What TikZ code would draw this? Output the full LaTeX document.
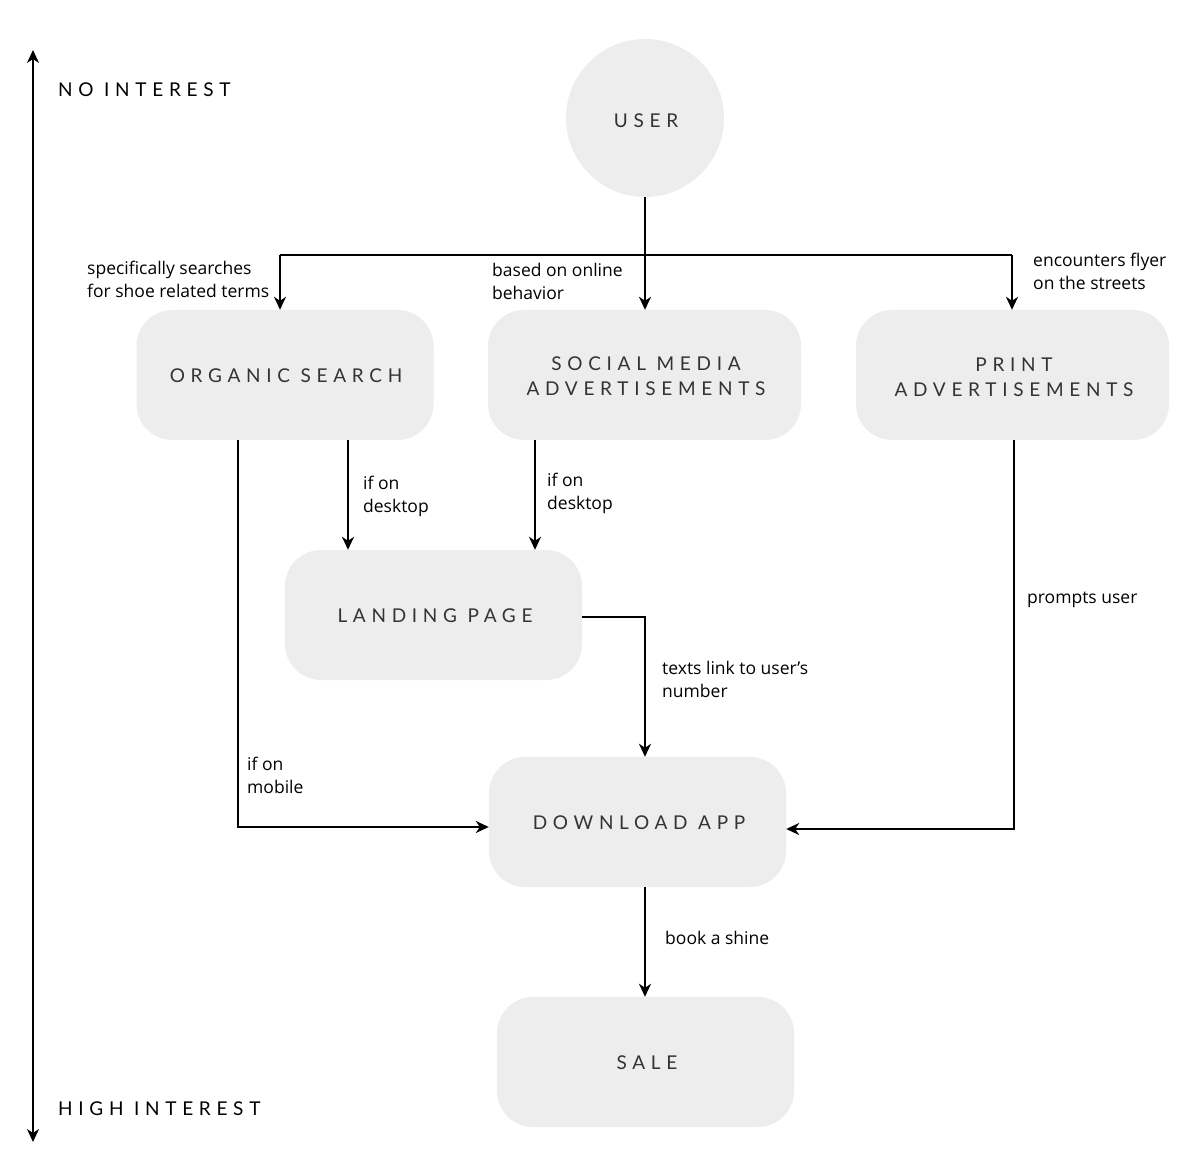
\documentclass[tikz,border=0pt]{standalone}
\usepackage{fontspec}
\setmainfont{Open Sans}
\newfontfamily\capsfont[LetterSpace=30]{Lato}
\usetikzlibrary{arrows.meta}
\definecolor{boxfill}{HTML}{EDEDED}
\definecolor{txt}{HTML}{333333}
\tikzset{
  box/.style={fill=boxfill, rounded corners=36pt, minimum width=297pt, minimum height=130pt,
    inner sep=0pt, align=center, text=txt, font=\capsfont\fontsize{19}{25}\selectfont},
  boxtext/.style={text=txt, font=\capsfont\fontsize{19}{25}\selectfont, inner sep=0pt, align=center},
  conn/.style={line width=1.8pt, -{Stealth[length=13pt,width=12pt,inset=4pt]}},
  lbl/.style={align=left, anchor=base west, inner sep=0pt, font=\fontsize{17.5}{23}\selectfont, text=black},
  axislbl/.style={anchor=west, inner sep=0pt, font=\capsfont\fontsize{19}{25}\selectfont, text=black}
}
\begin{document}
\begin{tikzpicture}[x=1pt,y=-1pt]
\useasboundingbox (0,0) rectangle (1187,1174);
% axis
\coordinate (axtop) at (33,50);
\coordinate (axbot) at (33,1142);
\draw[line width=1.8pt, {Stealth[length=13pt,width=12pt,inset=4pt]}-{Stealth[length=13pt,width=12pt,inset=4pt]}] (axtop) -- (axbot);
\node[axislbl] (noint) at (58,90) {NO INTEREST};
\node[axislbl] (highint) at (58,1109) {HIGH INTEREST};
% nodes
\node[circle, fill=boxfill, minimum size=158pt, inner sep=0pt] (user) at (645,118) {};
\node[boxtext] (usertext) at (646,121) {USER};
\node[box] (organic) at (285,375) {};
\node[boxtext] (organictext) at (286,376) {ORGANIC SEARCH};
\node[box, minimum width=313pt] (social) at (644.5,375) {};
\node[boxtext] (socialtext) at (646,376) {SOCIAL MEDIA\\ADVERTISEMENTS};
\node[box, minimum width=313pt] (print) at (1012.5,375) {};
\node[boxtext] (printtext) at (1014,377) {PRINT\\ADVERTISEMENTS};
\node[box] (landing) at (433.5,615) {};
\node[boxtext] (landingtext) at (435,616) {LANDING PAGE};
\node[box] (download) at (637.5,822) {};
\node[boxtext] (downloadtext) at (639,823) {DOWNLOAD APP};
\node[box] (sale) at (645.5,1062) {};
\node[boxtext] (saletext) at (647,1063) {SALE};
% connectors from user
\coordinate (splitL) at (280,255);
\coordinate (splitR) at (1012,255);
\draw[conn] (user.south) -- (social.north -| user.south);
\draw[line width=1.8pt] (splitL) -- (splitR);
\draw[conn] (splitL) -- (organic.north -| splitL);
\draw[conn] (splitR) -- (print.north -| splitR);
% organic
\coordinate (orgA) at (238,827);
\draw[conn] (organic.south -| orgA) -- (orgA) -- (download.west |- orgA);
\coordinate (orgB) at (348,440);
\draw[conn] (organic.south -| orgB) -- (landing.north -| orgB);
% social
\coordinate (socA) at (535,440);
\draw[conn] (social.south -| socA) -- (landing.north -| socA);
% landing -> download
\coordinate (landC) at (645,617);
\draw[conn] (landing.east |- landC) -- (landC) -- (download.north -| landC);
% print -> download
\coordinate (prC) at (1014,829);
\draw[conn] (print.south -| prC) -- (prC) -- (download.east |- prC);
% download -> sale
\coordinate (dlC) at (645,887);
\draw[conn] (download.south -| dlC) -- (sale.north -| dlC);
% labels (base = baseline of last line)
\node[lbl] (l1) at (87,298) {specifically searches\\for shoe related terms};
\node[lbl] (l2) at (492,300) {based on online\\behavior};
\node[lbl] (l3) at (1033,290) {encounters flyer\\on the streets};
\node[lbl] (l4) at (363,512) {if on\\desktop};
\node[lbl] (l5) at (547,509) {if on\\desktop};
\node[lbl] (l6) at (662,697) {texts link to user’s\\number};
\node[lbl] (l7) at (1027,603) {prompts user};
\node[lbl] (l8) at (247,793) {if on\\mobile};
\node[lbl] (l9) at (665,944) {book a shine};
\end{tikzpicture}
\end{document}
